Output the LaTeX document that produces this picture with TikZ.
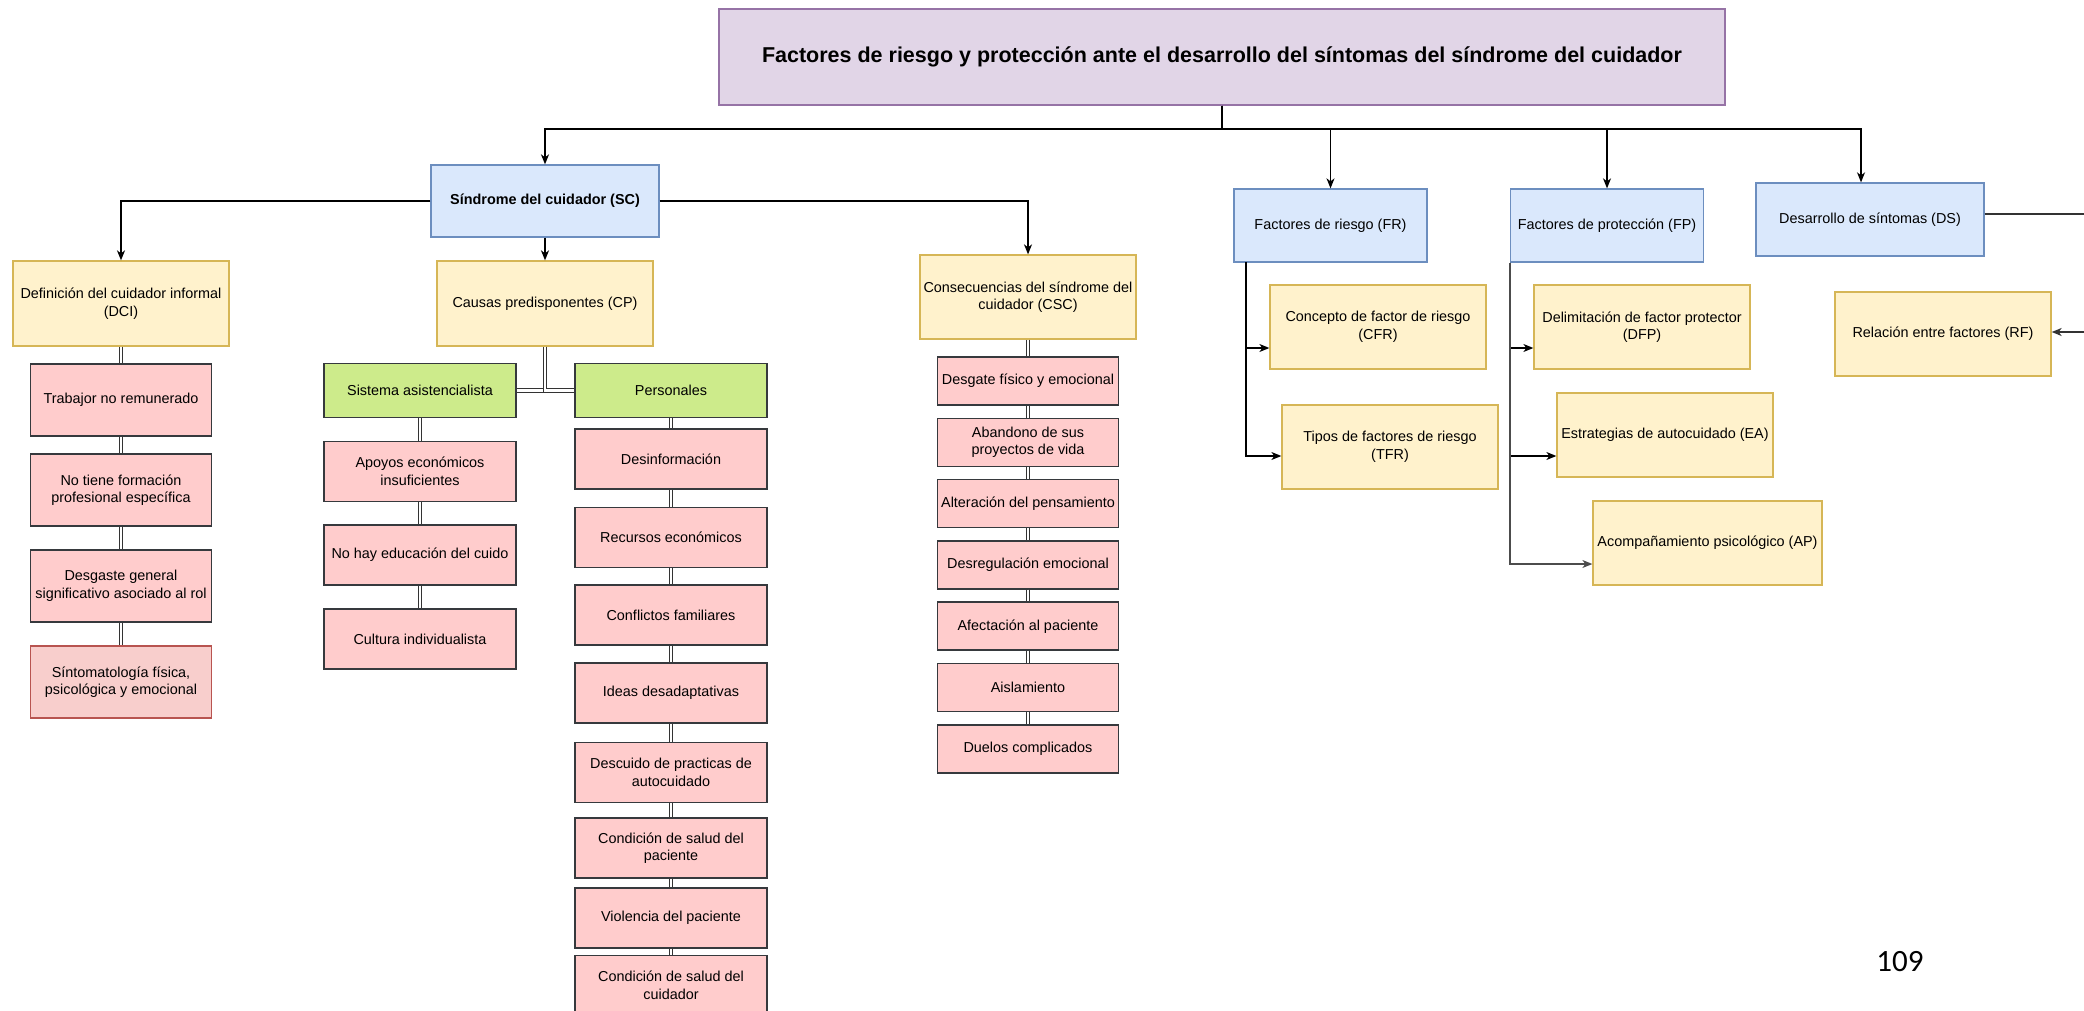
\documentclass[tikz,border=0pt]{standalone}
\usepackage{fontspec}
\setmainfont{Liberation Sans}
\newfontfamily\pagefont{Carlito}
\usetikzlibrary{arrows.meta}

\definecolor{titlefill}{HTML}{E1D5E7}
\definecolor{titleline}{HTML}{9673A6}
\definecolor{bluefill}{HTML}{DAE8FC}
\definecolor{blueline}{HTML}{6C8EBF}
\definecolor{yellowfill}{HTML}{FFF2CC}
\definecolor{yellowline}{HTML}{D6B656}
\definecolor{pinkfill}{HTML}{FFCCCC}
\definecolor{redfill}{HTML}{F8CECC}
\definecolor{redline}{HTML}{B85450}
\definecolor{greenfill}{HTML}{CDEB8B}
\definecolor{darkline}{HTML}{36393D}

\begin{document}
\begin{tikzpicture}[x=1pt,y=-1pt,
  box/.style={draw, line width=1.3pt, align=center, inner sep=2pt,
    font=\fontsize{14.4}{17.5}\selectfont},
  boxsize/.style 2 args={minimum width=#1, minimum height=#2},
  titlebox/.style={box, fill=titlefill, draw=titleline,
    font=\fontsize{21.5}{26}\selectfont\bfseries},
  bluebox/.style={box, fill=bluefill, draw=blueline},
  yellowbox/.style={box, fill=yellowfill, draw=yellowline},
  redbox/.style={box, fill=pinkfill, draw=darkline, line width=1.5pt},
  greenbox/.style={box, fill=greenfill, draw=darkline, line width=1.5pt},
  arr/.style={-{Stealth[length=10pt,width=8pt,inset=3pt]}, line width=1.3pt},
  link/.style={draw=black!80, line width=1.2pt, double=white, double distance=2.5pt}]

% Page frame
\useasboundingbox (0,0) rectangle (2084,1011);
\clip (0,0) rectangle (2084,1011);

% Title
\node[titlebox, boxsize={1006}{96}] (title) at (1222,57)
  {Factores de riesgo y protección ante el desarrollo del síntomas del síndrome del cuidador};

% First level
\node[bluebox, boxsize={228}{72}, font=\fontsize{14.4}{17.5}\selectfont\bfseries] (sc) at (545,201)
  {Síndrome del cuidador (SC)};
\node[bluebox, boxsize={193}{73}] (fr) at (1330.5,225.5) {Factores de riesgo (FR)};
\node[bluebox, boxsize={193}{73}] (fp) at (1607,225.5) {Factores de protección (FP)};
\node[bluebox, boxsize={228}{73}] (ds) at (1870,219.5) {Desarrollo de síntomas (DS)};

\coordinate (bus) at (1222,129);
\draw[arr] (title.south) -- (bus) -| (sc.north);
\draw[arr] (title.south) -- (bus) -| (fr.north);
\draw[arr] (title.south) -- (bus) -| (fp.north);
\draw[arr] (title.south) -- (bus) -| ([xshift=-9pt]ds.north);

% Second level
\node[yellowbox, boxsize={216}{85}] (dci) at (121,303.5) {Definición del cuidador informal\\(DCI)};
\node[yellowbox, boxsize={216}{85}] (cp) at (545,303.5) {Causas predisponentes (CP)};
\node[yellowbox, boxsize={216}{84}] (csc) at (1028,297) {Consecuencias del síndrome del\\cuidador (CSC)};

\draw[arr] (sc.west) -| (dci.north);
\draw[arr] (sc.south) -- (cp.north);
\draw[arr] (sc.east) -| (csc.north);

% Risk factors
\node[yellowbox, boxsize={216}{84}] (cfr) at (1378,327) {Concepto de factor de riesgo\\(CFR)};
\node[yellowbox, boxsize={216}{84}] (tfr) at (1390,447) {Tipos de factores de riesgo\\(TFR)};
\coordinate (frstem) at (1246,262);
\draw[arr] (frstem) |- ([yshift=-21pt]cfr.west);
\draw[arr] (frstem) |- ([yshift=-9pt]tfr.west);

% Protective factors
\node[yellowbox, boxsize={216}{84}] (dfp) at (1642,327) {Delimitación de factor protector\\(DFP)};
\node[yellowbox, boxsize={216}{84}] (ea) at (1665,435) {Estrategias de autocuidado (EA)};
\node[yellowbox, boxsize={229}{84}] (ap) at (1707.5,543) {Acompañamiento psicológico (AP)};
\draw[arr] (fp.south west) |- ([yshift=-21pt]dfp.west);
\draw[arr] (fp.south west) |- ([yshift=-21pt]ea.west);
\draw[arr, black!70] (fp.south west) |- ([yshift=-21pt]ap.west);

% Symptoms
\node[yellowbox, boxsize={216}{84}] (rf) at (1943,334) {Relación entre factores (RF)};
\draw[arr, black!80] ([yshift=5.5pt]ds.east) -- ++(130,0) |- ([yshift=2pt]rf.east);

% Informal caregiver
\foreach \i/\yc/\txt in {1/400/{Trabajor no remunerado},
    2/490/{No tiene formación\\profesional específica},
    3/586/{Desgaste general\\significativo asociado al rol}} {
  \node[redbox, boxsize={181}{72}] (dci\i) at (121,\yc) {\txt};
}
\node[redbox, fill=redfill, draw=redline, boxsize={181}{72}] (dci4) at (121,682)
  {Síntomatología física,\\psicológica y emocional};
\draw[link] (dci) -- (dci1);
\foreach \i in {2,3,4} {
  \pgfmathtruncatemacro{\j}{\i-1}
  \draw[link] (dci\j) -- (dci\i);
}

% Predisposing causes
\node[greenbox, boxsize={192}{54}] (sys) at (420,390.5) {Sistema asistencialista};
\node[greenbox, boxsize={192}{54}] (per) at (671,390.5) {Personales};
\draw[link] (cp.south) |- (sys.east);
\draw[link] (cp.south) |- (per.west);

\foreach \i/\yc/\txt in {1/471.5/{Apoyos económicos\\insuficientes},
    2/555/{No hay educación del cuido},
    3/639/{Cultura individualista}} {
  \node[redbox, boxsize={192}{60}] (sys\i) at (420,\yc) {\txt};
}
\draw[link] (sys) -- (sys1);
\foreach \i in {2,3} {
  \pgfmathtruncatemacro{\j}{\i-1}
  \draw[link] (sys\j) -- (sys\i);
}

\foreach \i/\yc/\txt in {1/459/{Desinformación},
    2/537.5/{Recursos económicos},
    3/615/{Conflictos familiares},
    4/693/{Ideas desadaptativas},
    5/772.5/{Descuido de practicas de\\autocuidado},
    6/848/{Condición de salud del\\paciente},
    7/918/{Violencia del paciente},
    8/985.5/{Condición de salud del\\cuidador}} {
  \node[redbox, boxsize={192}{60}] (per\i) at (671,\yc) {\txt};
}
\draw[link] (per) -- (per1);
\foreach \i in {2,...,8} {
  \pgfmathtruncatemacro{\j}{\i-1}
  \draw[link] (per\j) -- (per\i);
}

% Consequences
\foreach \i/\yc/\txt in {1/381/{Desgate físico y emocional},
    2/442.3/{Abandono de sus\\proyectos de vida},
    3/503.6/{Alteración del pensamiento},
    4/564.9/{Desregulación emocional},
    5/626.2/{Afectación al paciente},
    6/687.5/{Aislamiento},
    7/748.8/{Duelos complicados}} {
  \node[redbox, boxsize={181}{48}] (csc\i) at (1028,\yc) {\txt};
}
\draw[link] (csc) -- (csc1);
\foreach \i in {2,...,7} {
  \pgfmathtruncatemacro{\j}{\i-1}
  \draw[link] (csc\j) -- (csc\i);
}

% Page number
\node[font=\pagefont\fontsize{31}{31}\selectfont] (page) at (1900,962) {109};
\end{tikzpicture}
\end{document}
